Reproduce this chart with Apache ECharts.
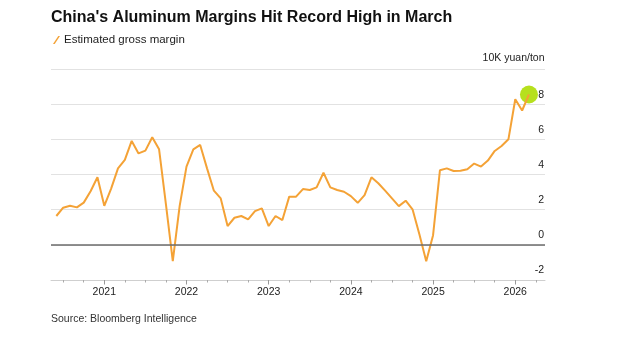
<!DOCTYPE html>
<html>
<head>
<meta charset="utf-8">
<script src="https://cdn.jsdelivr.net/npm/echarts@6/dist/echarts.min.js"></script>
<style>
html,body{margin:0;padding:0;background:#fff;}
#c{width:621px;height:344px;}
</style>
</head>
<body>
<div id="c"></div>
<script>
const months = [
 '2020-06','2020-07','2020-08','2020-09','2020-10','2020-11','2020-12',
 '2021-01','2021-02','2021-03','2021-04','2021-05','2021-06','2021-07','2021-08','2021-09','2021-10','2021-11','2021-12',
 '2022-01','2022-02','2022-03','2022-04','2022-05','2022-06','2022-07','2022-08','2022-09','2022-10','2022-11','2022-12',
 '2023-01','2023-02','2023-03','2023-04','2023-05','2023-06','2023-07','2023-08','2023-09','2023-10','2023-11','2023-12',
 '2024-01','2024-02','2024-03','2024-04','2024-05','2024-06','2024-07','2024-08','2024-09','2024-10','2024-11','2024-12',
 '2025-01','2025-02','2025-03','2025-04','2025-05','2025-06','2025-07','2025-08','2025-09','2025-10','2025-11','2025-12',
 '2026-01','2026-02','2026-03'
];
const grossMargin = [
 1.64, 2.11, 2.22, 2.13, 2.40, 3.05, 3.84,
 2.22, 3.20, 4.35, 4.83, 5.91, 5.20, 5.36, 6.12, 5.43, 2.30, -0.93, 2.20,
 4.45, 5.43, 5.68, 4.35, 3.08, 2.64, 1.07, 1.54, 1.64, 1.45, 1.92, 2.07,
 1.07, 1.64, 1.41, 2.74, 2.74, 3.17, 3.12, 3.27, 4.10, 3.27, 3.12, 3.02,
 2.77, 2.39, 2.83, 3.84, 3.50, 3.08, 2.64, 2.20, 2.51, 2.02, 0.60, -0.93,
 0.55, 4.24, 4.35, 4.20, 4.21, 4.30, 4.62, 4.45, 4.79, 5.34, 5.62, 6.00,
 8.28, 7.64, 8.55
];
const yearLabels = ['2021','2022','2023','2024','2025','2026'];
const seriesName = 'Estimated gross margin';
const unitLabel = '10K yuan/ton';

const FONT = '"Liberation Sans", Arial, Helvetica, sans-serif';
// x coordinate: months since Jan 2021
function mIdx(s){ const p = s.split('-'); return (parseInt(p[0],10)-2021)*12 + (parseInt(p[1],10)-1); }
const lineData = months.map((m,i)=>[mIdx(m), grossMargin[i]]);
const yearTicks = yearLabels.map(y => (parseInt(y,10)-2021)*12);
const quarterTicks = [];
for (let q = -6; q <= 63; q += 3) { if (q % 12 !== 0) quarterTicks.push(q); }
const X_MIN = -7.78, X_MAX = 64.34;

const chart = echarts.init(document.getElementById('c'), null, {renderer:'canvas'});
chart.setOption({
  animation:false,
  backgroundColor:'#fff',
  textStyle:{fontFamily:FONT},
  title:{
    text:"China's Aluminum Margins Hit Record High in March",
    left:51, top:10, padding:0,
    textStyle:{fontFamily:FONT, fontSize:16, fontWeight:'bold', color:'#111'}
  },
  legend:{
    data:[{name:seriesName, icon:'path://M0,10 L2.2,10 L9,0 L6.8,0 Z'}],
    left:53, top:34, padding:0, itemWidth:7, itemHeight:8, itemGap:10,
    textStyle:{fontFamily:FONT, fontSize:11.5, color:'#222', padding:[0,0,0,-1]}
  },
  graphic:[{
    type:'text', left:51, top:314,
    style:{text:'Source: Bloomberg Intelligence', font:'10.5px '+FONT, fill:'#333'}
  },{
    type:'text', right:76.5, top:53,
    style:{text:unitLabel, font:'10.5px '+FONT, fill:'#222', textAlign:'right'}
  }],
  grid:{left:51, right:76, top:69, bottom:64, containLabel:false},
  xAxis:[{
    type:'value', min:X_MIN, max:X_MAX, position:'bottom',
    axisLine:{show:true, onZero:false, lineStyle:{color:'#cfcfcf', width:1}},
    axisTick:{show:true, customValues:yearTicks, length:4.5, lineStyle:{color:'#999'}},
    axisLabel:{show:true, customValues:yearTicks, margin:7, fontFamily:FONT, fontSize:10.5, color:'#222',
      formatter:function(v){ return yearLabels[Math.round(v/12)]; }},
    splitLine:{show:false}
  },{
    type:'value', min:X_MIN, max:X_MAX, position:'bottom', offset:0,
    axisLine:{show:false, onZero:false},
    axisTick:{show:true, customValues:quarterTicks, length:2.5, lineStyle:{color:'#aaa'}},
    axisLabel:{show:false},
    splitLine:{show:false}
  }],
  yAxis:{
    type:'value', min:-2, max:10, interval:2, position:'right',
    axisLine:{show:false}, axisTick:{show:false},
    axisLabel:{inside:true, margin:1, fontFamily:FONT, fontSize:10.5, color:'#222',
      verticalAlign:'bottom', padding:[0,0,4,0], showMaxLabel:false},
    splitLine:{show:true, lineStyle:{color:'#e2e2e2', width:1}}
  },
  series:[{
    name:'dot', type:'scatter', xAxisIndex:0, z:1, silent:true,
    symbolSize:18, itemStyle:{color:'#b6e01e', opacity:1},
    data:[lineData[lineData.length-1]]
  },{
    name:seriesName, type:'line', xAxisIndex:0, z:3,
    data:lineData, showSymbol:false, symbol:'none',
    lineStyle:{color:'#f4a236', width:2}, itemStyle:{color:'#f4a236'},
    markLine:{silent:true, symbol:'none', label:{show:false}, animation:false,
      lineStyle:{color:'#6b6b6b', width:1.5, type:'solid'}, data:[{yAxis:0}]}
  }]
});
</script>
</body>
</html>
